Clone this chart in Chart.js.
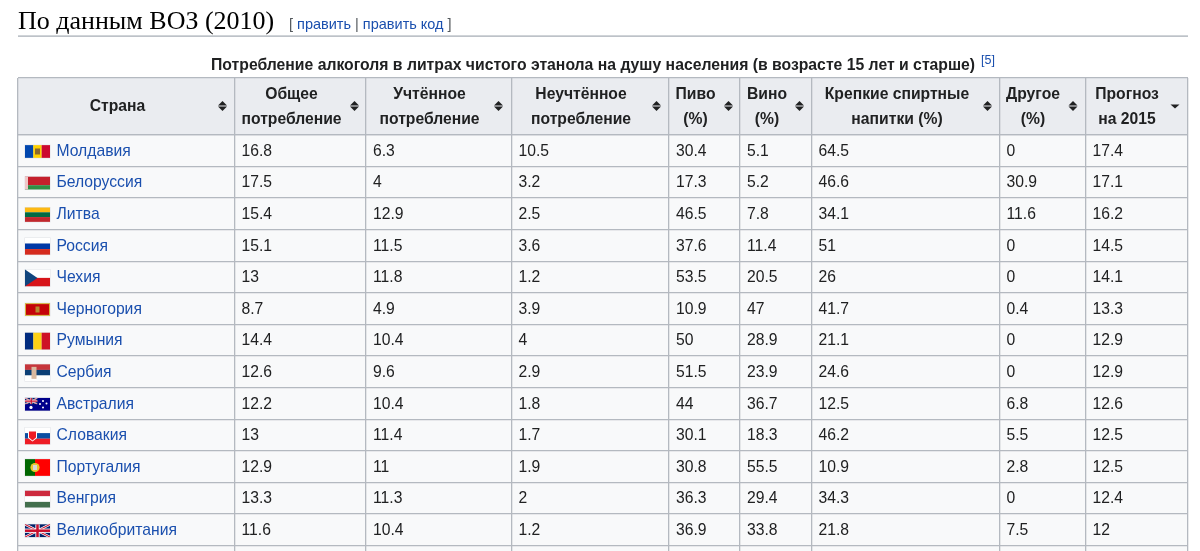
<!DOCTYPE html>
<html>
<head>
<meta charset="utf-8">
<title>По данным ВОЗ (2010)</title>
<script src="https://cdn.jsdelivr.net/npm/chart.js@4"></script>
<style>
  html, body { margin: 0; padding: 0; background: #fff; overflow: hidden; }
  #wrap { width: 1200px; height: 551px; }
</style>
</head>
<body>
<div id="wrap"><canvas id="chart0" width="1200" height="551"></canvas></div>
<script>
// Данные таблицы
const countries = ['Молдавия', 'Белоруссия', 'Литва', 'Россия', 'Чехия', 'Черногория', 'Румыния', 'Сербия', 'Австралия', 'Словакия', 'Португалия', 'Венгрия', 'Великобритания'];
const totalUse = [16.8, 17.5, 15.4, 15.1, 13, 8.7, 14.4, 12.6, 12.2, 13, 12.9, 13.3, 11.6];
const recorded = [6.3, 4, 12.9, 11.5, 11.8, 4.9, 10.4, 9.6, 10.4, 11.4, 11, 11.3, 10.4];
const unrecorded = [10.5, 3.2, 2.5, 3.6, 1.2, 3.9, 4, 2.9, 1.8, 1.7, 1.9, 2, 1.2];
const beer = [30.4, 17.3, 46.5, 37.6, 53.5, 10.9, 50, 51.5, 44, 30.1, 30.8, 36.3, 36.9];
const wine = [5.1, 5.2, 7.8, 11.4, 20.5, 47, 28.9, 23.9, 36.7, 18.3, 55.5, 29.4, 33.8];
const spirits = [64.5, 46.6, 34.1, 51, 26, 41.7, 21.1, 24.6, 12.5, 46.2, 10.9, 34.3, 21.8];
const other = [0, 30.9, 11.6, 0, 0, 0.4, 0, 0, 6.8, 5.5, 2.8, 0, 7.5];
const forecast = [17.4, 17.1, 16.2, 14.5, 14.1, 13.3, 12.9, 12.9, 12.6, 12.5, 12.5, 12.4, 12];

const headers = [['Страна'], ['Общее', 'потребление'], ['Учтённое', 'потребление'], ['Неучтённое', 'потребление'], ['Пиво', '(%)'], ['Вино', '(%)'], ['Крепкие спиртные', 'напитки (%)'], ['Другое', '(%)'], ['Прогноз', 'на 2015']];
const sectionTitle = 'По данным ВОЗ (2010)';
const tableCaption = 'Потребление алкоголя в литрах чистого этанола на душу населения (в возрасте 15 лет и старше)';

// Разметка: границы колонок и центры заголовков
const colEdges = [18, 234.5, 366, 511.5, 669, 740, 811.5, 999.5, 1085.5, 1188];
const headCenters = [117.5, 291.5, 429.5, 581, 695.5, 767, 897, 1033, 1127];
const sortIconX = [222.5, 354.5, 498.5, 656.5, 728.5, 799.5, 987.5, 1073, 1175];
const rowEdges = [-2.294, -0.506];
for (let i = 0; i <= 13; i++) rowEdges.push(i - 0.5 + 0.006);

const columns = [totalUse, recorded, unrecorded, beer, wine, spirits, other, forecast];
const FONT = '"Liberation Sans", Arial, sans-serif';
const LINK = '#1a4fae';

function stripes(ctx, x, y, w, h, colors) {
    colors.forEach((c, i) => {
        ctx.fillStyle = c;
        ctx.fillRect(x, y + h * i / colors.length, w, h / colors.length);
    });
}
function bars(ctx, x, y, w, h, colors) {
    colors.forEach((c, i) => {
        ctx.fillStyle = c;
        ctx.fillRect(x + w * i / colors.length, y, w / colors.length, h);
    });
}
function poly(ctx, color, pts) {
    ctx.fillStyle = color;
    ctx.beginPath();
    pts.forEach((p, i) => i ? ctx.lineTo(p[0], p[1]) : ctx.moveTo(p[0], p[1]));
    ctx.closePath();
    ctx.fill();
}
function ukCross(ctx, x, y, w, h) {
    ctx.fillStyle = '#012169';
    ctx.fillRect(x, y, w, h);
    ctx.save();
    ctx.beginPath();
    ctx.rect(x, y, w, h);
    ctx.clip();
    const diag = (color, lw) => {
        ctx.strokeStyle = color;
        ctx.lineWidth = lw;
        ctx.beginPath();
        ctx.moveTo(x, y); ctx.lineTo(x + w, y + h);
        ctx.moveTo(x + w, y); ctx.lineTo(x, y + h);
        ctx.stroke();
    };
    diag('#fff', h * 0.2);
    diag('#c8102e', h * 0.08);
    ctx.fillStyle = '#fff';
    ctx.fillRect(x + w / 2 - h / 6, y, h / 3, h);
    ctx.fillRect(x, y + h / 3, w, h / 3);
    ctx.fillStyle = '#c8102e';
    ctx.fillRect(x + w / 2 - h / 10, y, h / 5, h);
    ctx.fillRect(x, y + h * 0.4, w, h / 5);
    ctx.restore();
}

// Флаги стран: высота и функция рисования
const flags = {
    'Молдавия': [12.7, (c, x, y, w, h) => {
        bars(c, x, y, w, h, ['#0046ae', '#ffd200', '#cc092f']);
        c.fillStyle = '#8a6a2c'; c.fillRect(x + w / 2 - 2.5, y + h / 2 - 3, 5, 6);
    }],
    'Белоруссия': [12.7, (c, x, y, w, h) => {
        c.fillStyle = '#c4202c'; c.fillRect(x, y, w, h * 2 / 3);
        c.fillStyle = '#2f8f45'; c.fillRect(x, y + h * 2 / 3, w, h / 3);
        c.fillStyle = '#eec7c7'; c.fillRect(x, y, 3, h);
    }],
    'Литва': [14.3, (c, x, y, w, h) => stripes(c, x, y, w, h, ['#fdb913', '#006a44', '#c1272d'])],
    'Россия': [16.7, (c, x, y, w, h) => stripes(c, x, y, w, h, ['#ffffff', '#0039a6', '#d52b1e'])],
    'Чехия': [16.7, (c, x, y, w, h) => {
        stripes(c, x, y, w, h, ['#ffffff', '#d7141a']);
        poly(c, '#11457e', [[x, y], [x + w / 2, y + h / 2], [x, y + h]]);
    }],
    'Черногория': [12.7, (c, x, y, w, h) => {
        c.fillStyle = '#d4af3a'; c.fillRect(x, y, w, h);
        c.fillStyle = '#c40308'; c.fillRect(x + 1, y + 1, w - 2, h - 2);
        c.fillStyle = '#b8892e'; c.fillRect(x + w / 2 - 2, y + h / 2 - 3, 4, 6);
    }],
    'Румыния': [16.7, (c, x, y, w, h) => bars(c, x, y, w, h, ['#002b7f', '#fcd116', '#ce1126'])],
    'Сербия': [16.7, (c, x, y, w, h) => {
        stripes(c, x, y, w, h, ['#c6363c', '#0c4076', '#ffffff']);
        c.fillStyle = '#d9b9a0'; c.fillRect(x + 6.5, y + 2.5, 5, 12);
    }],
    'Австралия': [12.7, (c, x, y, w, h) => {
        c.fillStyle = '#00008b'; c.fillRect(x, y, w, h);
        ukCross(c, x, y, w / 2, h / 2);
        c.fillStyle = '#fff';
        [[6, 9.5, 1.6], [18, 3, 1], [21.5, 5.5, 1], [18, 9.5, 1], [15, 6, 1]].forEach(s => {
            c.beginPath(); c.arc(x + s[0], y + s[1], s[2], 0, Math.PI * 2); c.fill();
        });
    }],
    'Словакия': [16.7, (c, x, y, w, h) => {
        stripes(c, x, y, w, h, ['#ffffff', '#0b4ea2', '#ee1c25']);
        poly(c, '#ffffff', [[x + 3, y + 3], [x + 12, y + 3], [x + 12, y + 10.5], [x + 7.5, y + 14], [x + 3, y + 10.5]]);
        poly(c, '#ee1c25', [[x + 4, y + 4], [x + 11, y + 4], [x + 11, y + 10], [x + 7.5, y + 13], [x + 4, y + 10]]);
    }],
    'Португалия': [16.7, (c, x, y, w, h) => {
        c.fillStyle = '#006600'; c.fillRect(x, y, w * 0.4, h);
        c.fillStyle = '#ff0000'; c.fillRect(x + w * 0.4, y, w * 0.6, h);
        c.fillStyle = '#e8c830'; c.beginPath(); c.arc(x + w * 0.4, y + h / 2, 4.6, 0, Math.PI * 2); c.fill();
        c.fillStyle = '#d9d9d9'; c.fillRect(x + w * 0.4 - 2, y + h / 2 - 2.5, 4, 5);
    }],
    'Венгрия': [16.7, (c, x, y, w, h) => stripes(c, x, y, w, h, ['#cd2a3e', '#ffffff', '#436f4d'])],
    'Великобритания': [12.7, (c, x, y, w, h) => ukCross(c, x, y, w, h)]
};

function sortIcon(ctx, x, y, onlyDown) {
    if (!onlyDown) {
        poly(ctx, '#202122', [[x - 4.5, y - 0.6], [x + 4.5, y - 0.6], [x, y - 5]]);
        poly(ctx, '#202122', [[x - 4.5, y + 0.6], [x + 4.5, y + 0.6], [x, y + 5]]);
    } else {
        poly(ctx, '#202122', [[x - 4.5, y - 1.5], [x + 4.5, y - 1.5], [x, y + 2.5]]);
    }
}

// Отрисовка ячеек и текста поверх шкал
const tablePlugin = {
    id: 'tablePlugin',
    beforeDraw(chart) {
        const ctx = chart.ctx, area = chart.chartArea, yS = chart.scales.y;
        const headBottom = yS.getPixelForValue(-0.5);
        ctx.save();
        ctx.fillStyle = '#f8f9fa';
        ctx.fillRect(area.left, headBottom, area.right - area.left, area.bottom - headBottom);
        ctx.fillStyle = '#eaecf0';
        ctx.fillRect(area.left, area.top, area.right - area.left, headBottom - area.top);
        ctx.restore();
    },
    afterDraw(chart) {
        const ctx = chart.ctx;
        ctx.save();
        ctx.textBaseline = 'middle';

        // заголовок раздела
        ctx.textAlign = 'left';
        ctx.fillStyle = '#000';
        ctx.font = '26px "Liberation Serif", Georgia, serif';
        ctx.fillText(sectionTitle, 18, 22);
        ctx.fillStyle = '#a2a9b1';
        ctx.fillRect(18, 35.5, 1170, 1.2);

        ctx.font = '14.5px ' + FONT;
        let ex = 289;
        [['[ ', '#54595d'], ['править', LINK], [' | ', '#54595d'], ['править код', LINK], [' ]', '#54595d']].forEach(p => {
            ctx.fillStyle = p[1];
            ctx.fillText(p[0], ex, 25);
            ex += ctx.measureText(p[0]).width;
        });

        // подпись таблицы
        ctx.fillStyle = '#202122';
        ctx.font = 'bold 15.75px ' + FONT;
        ctx.fillText(tableCaption, 211, 66);
        ctx.fillStyle = LINK;
        ctx.font = '12.5px ' + FONT;
        ctx.fillText('[5]', 981, 61);

        // шапка
        ctx.font = 'bold 15.7px ' + FONT;
        ctx.textAlign = 'center';
        ctx.fillStyle = '#202122';
        headers.forEach((lines, i) => {
            if (lines.length === 1) {
                ctx.fillText(lines[0], headCenters[i], 107);
            } else {
                ctx.fillText(lines[0], headCenters[i], 95);
                ctx.fillText(lines[1], headCenters[i], 120);
            }
            sortIcon(ctx, sortIconX[i], 106, i === headers.length - 1);
        });

        // значения и страны из точек наборов данных
        ctx.textAlign = 'left';
        ctx.font = '15.7px ' + FONT;
        chart.data.datasets.forEach((ds, d) => {
            chart.getDatasetMeta(d).data.forEach((pt, i) => {
                if (ds.isCountry) {
                    const f = flags[countries[i]];
                    const fy = pt.y + 1 - f[0] / 2;
                    ctx.fillStyle = '#dfe2e6';
                    ctx.fillRect(pt.x - 32, fy - 0.5, 26, f[0] + 1);
                    f[1](ctx, pt.x - 31.5, fy, 25, f[0]);
                    ctx.fillStyle = LINK;
                    ctx.fillText(countries[i], pt.x, pt.y + 1);
                } else {
                    ctx.fillStyle = '#202122';
                    ctx.fillText(String(ds.data[i].y2), pt.x, pt.y + 1);
                }
            });
        });
        ctx.restore();
    }
};

const cellX = colEdges.slice(1, -1).map(e => e + 7);
const datasets = [{
    label: 'Страна',
    isCountry: true,
    data: countries.map((c, i) => ({ x: 56.5, y: i })),
    pointRadius: 0
}];
columns.forEach((col, c) => {
    datasets.push({
        label: headers[c + 1].join(' '),
        data: col.map((v, i) => ({ x: cellX[c], y: i, y2: v })),
        pointRadius: 0
    });
});

new Chart(document.getElementById('chart0').getContext('2d'), {
    type: 'scatter',
    data: { datasets: datasets },
    options: {
        responsive: false,
        animation: false,
        events: [],
        layout: { padding: { left: 18, right: 12, top: 78, bottom: 0 } },
        plugins: { legend: { display: false }, tooltip: { enabled: false } },
        scales: {
            x: {
                type: 'linear', min: 18, max: 1188,
                ticks: { display: false },
                border: { display: false },
                grid: { color: '#b4b9c0', lineWidth: 1.3, drawTicks: false },
                afterBuildTicks: s => { s.ticks = colEdges.map(v => ({ value: v })); }
            },
            y: {
                type: 'linear', min: -2.294, max: 12.674, reverse: true,
                ticks: { display: false },
                border: { display: false },
                grid: { color: '#b4b9c0', lineWidth: 1.3, drawTicks: false },
                afterBuildTicks: s => { s.ticks = rowEdges.map(v => ({ value: v })); }
            }
        }
    },
    plugins: [tablePlugin]
});
</script>
</body>
</html>
